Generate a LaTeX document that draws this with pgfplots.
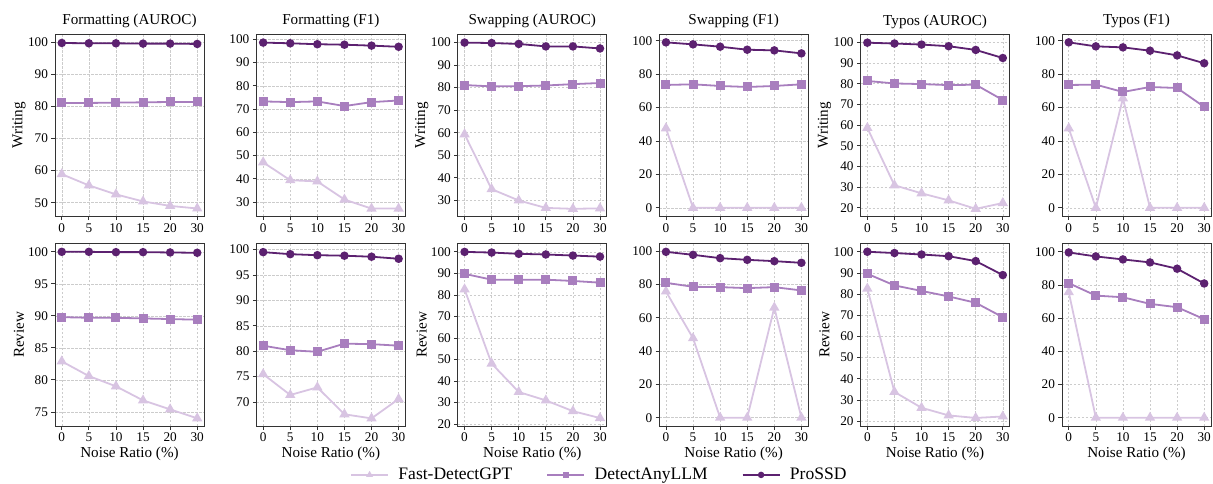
\documentclass[border=0pt]{standalone}
\usepackage{pgfplots}
\pgfplotsset{compat=1.18}
\usepgfplotslibrary{groupplots}
\usepackage{fontspec}
\setmainfont{Liberation Serif}
\definecolor{fastc}{RGB}{216,196,226}
\definecolor{dalc}{RGB}{168,126,190}
\definecolor{prosc}{RGB}{92,33,112}
\pgfplotsset{
  faststyle/.style={color=fastc, line width=1.8bp, mark=triangle*, mark size=4.2bp, mark options={solid}},
  dalstyle/.style={color=dalc, line width=1.8bp, mark=square*, mark size=3.6bp, mark options={solid}},
  prosstyle/.style={color=prosc, line width=1.8bp, mark=*, mark size=3.3bp, mark options={solid}},
}
\begin{document}
\begin{tikzpicture}
\begin{groupplot}[
  group style={group size=6 by 2, horizontal sep=52.4bp, vertical sep=27bp},
  scale only axis, width=149bp, height=182.5bp,
  xmin=-0.25, xmax=5.25, xtick={0,1,2,3,4,5}, xticklabels={0,5,10,15,20,30},
  tick align=outside, tick pos=left, major tick length=3.5bp,
  grid=major, major grid style={dash pattern=on 2.5bp off 1.5bp, gray!40, line width=0.5bp},
  axis line style={draw=black!80, line width=0.8bp},
  tick style={black!80, line width=0.8bp},
  ticklabel style={font=\fontsize{13.3}{14}\selectfont},
  /pgf/number format/assume math mode=true,
  every axis title/.style={at={(axis description cs:0.5,1)}, anchor=base, yshift=9bp, font=\fontsize{15.2}{16}\selectfont},
  every axis y label/.style={at={(axis description cs:-0.242,0.5)}, rotate=90, anchor=center, font=\fontsize{15.2}{16}\selectfont},
  every axis x label/.style={at={(axis description cs:0.5,0)}, anchor=base, yshift=-31bp, font=\fontsize{15.2}{16}\selectfont},
  legend image code/.code={\draw[mark repeat=2, mark phase=2, #1, mark size=2.3bp] plot coordinates {(0bp,0bp) (18.5bp,0bp) (37bp,0bp)};},
]
% ---------- Row 1: Writing ----------
\nextgroupplot[title={Formatting (AUROC)}, ylabel={Writing}, ymin=45.7, ymax=102.6, ytick={50,60,70,80,90,100}]
\addplot[faststyle] coordinates {(0,58.9) (1,55.4) (2,52.6) (3,50.4) (4,49.0) (5,48.2)};
\addplot[dalstyle] coordinates {(0,81.1) (1,81.1) (2,81.2) (3,81.3) (4,81.4) (5,81.4)};
\addplot[prosstyle] coordinates {(0,99.8) (1,99.7) (2,99.7) (3,99.6) (4,99.6) (5,99.5)};
\nextgroupplot[title={Formatting (F1)}, ymin=23.8, ymax=102.3, ytick={30,40,50,60,70,80,90,100}]
\addplot[faststyle] coordinates {(0,47.1) (1,39.4) (2,38.9) (3,31.1) (4,27.2) (5,27.2)};
\addplot[dalstyle] coordinates {(0,73.3) (1,73.0) (2,73.3) (3,71.3) (4,73.0) (5,73.7)};
\addplot[prosstyle] coordinates {(0,98.6) (1,98.3) (2,97.9) (3,97.7) (4,97.3) (5,96.8)};
\nextgroupplot[title={Swapping (AUROC)}, ylabel={Writing}, ymin=22.9, ymax=103.7, ytick={30,40,50,60,70,80,90,100}]
\addplot[faststyle] coordinates {(0,59.3) (1,35.0) (2,30.0) (3,26.7) (4,26.3) (5,26.5)};
\addplot[dalstyle] coordinates {(0,81.1) (1,80.5) (2,80.6) (3,80.9) (4,81.5) (5,82.0)};
\addplot[prosstyle] coordinates {(0,99.9) (1,99.7) (2,99.3) (3,98.2) (4,98.2) (5,97.3)};
\nextgroupplot[title={Swapping (F1)}, ymin=-5.2, ymax=104, ytick={0,20,40,60,80,100}]
\addplot[faststyle] coordinates {(0,47.6) (1,0) (2,0) (3,0) (4,0) (5,0)};
\addplot[dalstyle] coordinates {(0,73.5) (1,73.9) (2,72.9) (3,72.3) (4,72.9) (5,73.9)};
\addplot[prosstyle] coordinates {(0,99.0) (1,97.8) (2,96.4) (3,94.6) (4,94.2) (5,92.4)};
\nextgroupplot[title={Typos (AUROC)}, ylabel={Writing}, ymin=15.8, ymax=104.0, ytick={20,30,40,50,60,70,80,90,100}]
\addplot[faststyle] coordinates {(0,58.6) (1,30.9) (2,27.0) (3,23.6) (4,19.5) (5,22.3)};
\addplot[dalstyle] coordinates {(0,81.3) (1,80.1) (2,79.8) (3,79.3) (4,79.5) (5,72.1)};
\addplot[prosstyle] coordinates {(0,99.8) (1,99.4) (2,98.9) (3,98.1) (4,96.3) (5,92.4)};
\nextgroupplot[title={Typos (F1)}, ymin=-5.2, ymax=104, ytick={0,20,40,60,80,100}]
\addplot[faststyle] coordinates {(0,47.6) (1,0) (2,65.5) (3,0) (4,0) (5,0)};
\addplot[dalstyle] coordinates {(0,73.5) (1,73.7) (2,69.3) (3,72.3) (4,71.7) (5,60.4)};
\addplot[prosstyle] coordinates {(0,99.0) (1,96.6) (2,96.0) (3,94.0) (4,91.2) (5,86.5)};
% ---------- Row 2: Review ----------
\nextgroupplot[ylabel={Review}, xlabel={Noise Ratio (\%)}, ymin=72.8, ymax=101.3, ytick={75,80,85,90,95,100},
  legend style={draw=none, fill=none, at={(axis description cs:1.98,-0.268)}, anchor=west, inner sep=0pt,
    font=\fontsize{17.6}{20}\selectfont, /tikz/every even column/.append style={column sep=32bp},
    /tikz/every odd column/.append style={column sep=7.5bp}},
  legend columns=3]
\addplot[faststyle] coordinates {(0,82.9) (1,80.6) (2,79.0) (3,76.8) (4,75.4) (5,74.0)};
\addlegendentry{Fast-DetectGPT}
\addplot[dalstyle] coordinates {(0,89.8) (1,89.7) (2,89.7) (3,89.6) (4,89.5) (5,89.4)};
\addlegendentry{DetectAnyLLM}
\addplot[prosstyle] coordinates {(0,100.0) (1,100.0) (2,99.95) (3,99.95) (4,99.9) (5,99.85)};
\addlegendentry{ProSSD}
\nextgroupplot[xlabel={Noise Ratio (\%)}, ymin=65.3, ymax=101.2, ytick={70,75,80,85,90,95,100}]
\addplot[faststyle] coordinates {(0,75.5) (1,71.4) (2,72.9) (3,67.6) (4,66.8) (5,70.6)};
\addplot[dalstyle] coordinates {(0,81.1) (1,80.2) (2,79.9) (3,81.5) (4,81.4) (5,81.1)};
\addplot[prosstyle] coordinates {(0,99.5) (1,99.1) (2,98.9) (3,98.8) (4,98.6) (5,98.2)};
\nextgroupplot[ylabel={Review}, xlabel={Noise Ratio (\%)}, ymin=19.1, ymax=103.9, ytick={20,30,40,50,60,70,80,90,100}]
\addplot[faststyle] coordinates {(0,82.6) (1,48.1) (2,34.9) (3,31.0) (4,26.0) (5,22.8)};
\addplot[dalstyle] coordinates {(0,89.8) (1,87.1) (2,87.1) (3,87.1) (4,86.5) (5,85.7)};
\addplot[prosstyle] coordinates {(0,100) (1,99.7) (2,99.1) (3,98.8) (4,98.3) (5,97.8)};
\nextgroupplot[xlabel={Noise Ratio (\%)}, ymin=-5, ymax=104.6, ytick={0,20,40,60,80,100}]
\addplot[faststyle] coordinates {(0,75.8) (1,47.7) (2,0) (3,0) (4,66.1) (5,0)};
\addplot[dalstyle] coordinates {(0,81.0) (1,78.6) (2,78.4) (3,77.8) (4,78.4) (5,76.4)};
\addplot[prosstyle] coordinates {(0,99.6) (1,97.8) (2,95.8) (3,94.8) (4,94.0) (5,93.0)};
\nextgroupplot[ylabel={Review}, xlabel={Noise Ratio (\%)}, ymin=17.7, ymax=103.9, ytick={20,30,40,50,60,70,80,90,100}]
\addplot[faststyle] coordinates {(0,82.6) (1,33.8) (2,26.3) (3,22.7) (4,21.5) (5,22.2)};
\addplot[dalstyle] coordinates {(0,89.6) (1,84.1) (2,81.5) (3,78.9) (4,75.9) (5,69.1)};
\addplot[prosstyle] coordinates {(0,100) (1,99.4) (2,98.7) (3,97.9) (4,95.6) (5,89.0)};
\nextgroupplot[xlabel={Noise Ratio (\%)}, ymin=-5, ymax=105, ytick={0,20,40,60,80,100}]
\addplot[faststyle] coordinates {(0,75.7) (1,0) (2,0) (3,0) (4,0) (5,0)};
\addplot[dalstyle] coordinates {(0,81.1) (1,73.6) (2,72.6) (3,68.6) (4,66.6) (5,59.4)};
\addplot[prosstyle] coordinates {(0,99.6) (1,97.2) (2,95.4) (3,93.6) (4,89.8) (5,80.9)};
\end{groupplot}
\pgfresetboundingbox
\path[use as bounding box] ([shift={(-55bp,-58bp)}]group c1r2.south west) rectangle ([shift={(1158bp,426bp)}]group c1r2.south west);
\end{tikzpicture}
\end{document}
